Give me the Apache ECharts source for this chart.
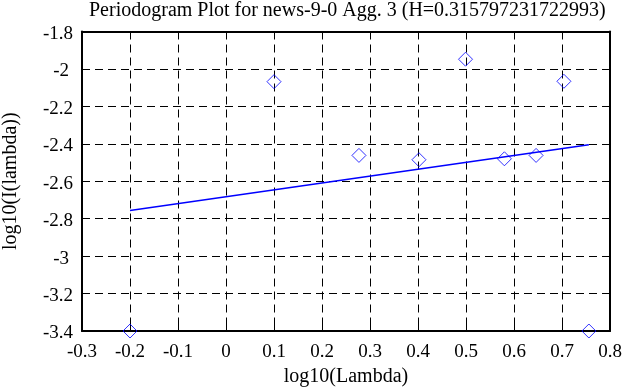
<!DOCTYPE html>
<html><head><meta charset="utf-8">
<script src="https://cdn.jsdelivr.net/npm/echarts@6/dist/echarts.min.js"></script>
<style>html,body{margin:0;padding:0;background:#fff}#c{width:642px;height:387px}</style>
</head><body><div id="c"></div>
<script>
const titleText = 'Periodogram Plot for news-9-0 Agg. 3 (H=0.315797231722993)';
const xName = 'log10(Lambda)';
const yName = 'log10(I(lambda))';
const pointX = [-0.2, 0.1, 0.277, 0.402, 0.499, 0.58, 0.646, 0.704, 0.756];
const pointY = [-3.4, -2.068, -2.462, -2.485, -1.948, -2.48, -2.462, -2.066, -3.4];
const fitX = [-0.2, 0.756];
const fitY = [-2.756, -2.405];

const FONT = 'Liberation Serif';
const chart = echarts.init(document.getElementById('c'), null, {renderer: 'canvas'});
const fmt = v => String(+(+v).toFixed(1));
const yfmt = v => { const s = fmt(v); return s.indexOf('.') >= 0 ? s : '{i|' + s + '}'; };
const gridLine = {show: true, lineStyle: {color: '#000', type: [8, 5], width: 1}};
const axisLine = {show: true, onZero: false, lineStyle: {color: '#000', width: 2}};
const ticks = {show: true, inside: true, length: 6, lineStyle: {color: '#000', width: 1}};
option = {
  animation: false,
  backgroundColor: '#fff',
  title: {text: titleText, left: 89, top: 1, padding: 0,
    textStyle: {fontFamily: FONT, fontSize: 20, fontWeight: 'normal', color: '#000'}},
  grid: {left: 82, right: 32, top: 31.5, bottom: 56, containLabel: false, outerBoundsMode: 'none'},
  xAxis: [{
    type: 'value', min: -0.3, max: 0.8, interval: 0.1,
    name: xName, nameLocation: 'middle', nameGap: 34,
    nameTextStyle: {fontFamily: FONT, fontSize: 20, color: '#000'},
    axisLine: axisLine, axisTick: ticks, splitLine: gridLine,
    axisLabel: {formatter: fmt, fontFamily: FONT, fontSize: 19, color: '#000', margin: 12}
  }, {
    type: 'value', position: 'top', min: -0.3, max: 0.8, interval: 0.1,
    axisLine: axisLine, axisTick: ticks, splitLine: {show: false}, axisLabel: {show: false}
  }],
  yAxis: [{
    type: 'value', min: -3.4, max: -1.8, interval: 0.2,
    name: yName, nameLocation: 'middle', nameGap: 61, nameRotate: 90,
    nameTextStyle: {fontFamily: FONT, fontSize: 20, color: '#000'},
    axisLine: axisLine, axisTick: ticks, splitLine: gridLine,
    axisLabel: {formatter: yfmt, fontFamily: FONT, fontSize: 19, color: '#000', margin: 9,
      padding: [5, 0, 0, 0],
      rich: {i: {fontFamily: FONT, fontSize: 19, color: '#000', padding: [0, 4, 0, 0]}}}
  }, {
    type: 'value', position: 'right', min: -3.4, max: -1.8, interval: 0.2,
    axisLine: axisLine, axisTick: ticks, splitLine: {show: false}, axisLabel: {show: false}
  }],
  series: [{
    type: 'scatter', clip: false, symbol: 'diamond', symbolSize: 14,
    itemStyle: {color: 'rgba(0,0,0,0)', borderColor: '#0000ff', borderWidth: 1},
    data: pointX.map((x, i) => [x, pointY[i]]), z: 5
  }, {
    type: 'line', showSymbol: false, symbol: 'none',
    lineStyle: {color: '#0000ff', width: 1.5},
    data: fitX.map((x, i) => [x, fitY[i]]), z: 4
  }]
};
chart.setOption(option);
</script></body></html>
